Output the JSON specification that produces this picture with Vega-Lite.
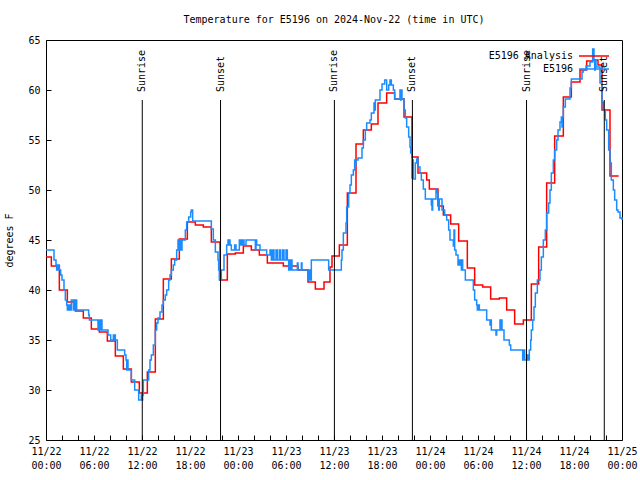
{
  "$schema": "https://vega.github.io/schema/vega-lite/v6.json",
  "autosize": {"type": "none"},
  "padding": {"left": 46, "top": 40, "right": 18, "bottom": 40},
  "width": 576,
  "height": 400,
  "title": {"text": "Temperature for E5196 on 2024-Nov-22 (time in UTC)", "anchor": "middle", "font": "DejaVu Sans Mono", "fontSize": 10, "fontWeight": "normal", "color": "black", "offset": 10},
  "datasets": {
    "an": [
      {"series": "E5196 Analysis", "time": "2024-11-22T00:00:00Z", "temp": 43.3},
      {"series": "E5196 Analysis", "time": "2024-11-22T00:40:00Z", "temp": 42.4},
      {"series": "E5196 Analysis", "time": "2024-11-22T01:40:00Z", "temp": 40.0},
      {"series": "E5196 Analysis", "time": "2024-11-22T02:40:00Z", "temp": 38.8},
      {"series": "E5196 Analysis", "time": "2024-11-22T03:40:00Z", "temp": 37.9},
      {"series": "E5196 Analysis", "time": "2024-11-22T04:40:00Z", "temp": 37.2},
      {"series": "E5196 Analysis", "time": "2024-11-22T05:40:00Z", "temp": 36.1},
      {"series": "E5196 Analysis", "time": "2024-11-22T06:40:00Z", "temp": 35.8},
      {"series": "E5196 Analysis", "time": "2024-11-22T07:40:00Z", "temp": 34.9},
      {"series": "E5196 Analysis", "time": "2024-11-22T08:40:00Z", "temp": 33.4},
      {"series": "E5196 Analysis", "time": "2024-11-22T09:40:00Z", "temp": 32.1},
      {"series": "E5196 Analysis", "time": "2024-11-22T10:40:00Z", "temp": 30.8},
      {"series": "E5196 Analysis", "time": "2024-11-22T11:40:00Z", "temp": 29.7},
      {"series": "E5196 Analysis", "time": "2024-11-22T12:40:00Z", "temp": 31.8},
      {"series": "E5196 Analysis", "time": "2024-11-22T13:40:00Z", "temp": 37.1},
      {"series": "E5196 Analysis", "time": "2024-11-22T14:40:00Z", "temp": 41.1},
      {"series": "E5196 Analysis", "time": "2024-11-22T15:40:00Z", "temp": 43.1},
      {"series": "E5196 Analysis", "time": "2024-11-22T16:40:00Z", "temp": 45.1},
      {"series": "E5196 Analysis", "time": "2024-11-22T17:40:00Z", "temp": 46.8},
      {"series": "E5196 Analysis", "time": "2024-11-22T18:40:00Z", "temp": 46.5},
      {"series": "E5196 Analysis", "time": "2024-11-22T19:40:00Z", "temp": 46.3},
      {"series": "E5196 Analysis", "time": "2024-11-22T20:40:00Z", "temp": 44.8},
      {"series": "E5196 Analysis", "time": "2024-11-22T21:45:00Z", "temp": 41.0},
      {"series": "E5196 Analysis", "time": "2024-11-22T22:40:00Z", "temp": 43.6},
      {"series": "E5196 Analysis", "time": "2024-11-22T23:40:00Z", "temp": 43.7},
      {"series": "E5196 Analysis", "time": "2024-11-23T00:40:00Z", "temp": 44.4},
      {"series": "E5196 Analysis", "time": "2024-11-23T01:40:00Z", "temp": 44.0},
      {"series": "E5196 Analysis", "time": "2024-11-23T02:40:00Z", "temp": 43.5},
      {"series": "E5196 Analysis", "time": "2024-11-23T03:40:00Z", "temp": 42.7},
      {"series": "E5196 Analysis", "time": "2024-11-23T05:40:00Z", "temp": 42.4},
      {"series": "E5196 Analysis", "time": "2024-11-23T07:30:00Z", "temp": 42.0},
      {"series": "E5196 Analysis", "time": "2024-11-23T08:45:00Z", "temp": 40.8},
      {"series": "E5196 Analysis", "time": "2024-11-23T09:40:00Z", "temp": 40.1},
      {"series": "E5196 Analysis", "time": "2024-11-23T10:45:00Z", "temp": 40.8},
      {"series": "E5196 Analysis", "time": "2024-11-23T11:30:00Z", "temp": 42.3},
      {"series": "E5196 Analysis", "time": "2024-11-23T11:45:00Z", "temp": 43.4},
      {"series": "E5196 Analysis", "time": "2024-11-23T12:40:00Z", "temp": 44.5},
      {"series": "E5196 Analysis", "time": "2024-11-23T13:40:00Z", "temp": 49.7},
      {"series": "E5196 Analysis", "time": "2024-11-23T14:45:00Z", "temp": 54.6},
      {"series": "E5196 Analysis", "time": "2024-11-23T15:40:00Z", "temp": 56.0},
      {"series": "E5196 Analysis", "time": "2024-11-23T16:40:00Z", "temp": 56.6},
      {"series": "E5196 Analysis", "time": "2024-11-23T17:30:00Z", "temp": 58.7},
      {"series": "E5196 Analysis", "time": "2024-11-23T18:35:00Z", "temp": 59.7},
      {"series": "E5196 Analysis", "time": "2024-11-23T19:35:00Z", "temp": 59.1},
      {"series": "E5196 Analysis", "time": "2024-11-23T20:45:00Z", "temp": 57.3},
      {"series": "E5196 Analysis", "time": "2024-11-23T21:45:00Z", "temp": 53.3},
      {"series": "E5196 Analysis", "time": "2024-11-23T22:30:00Z", "temp": 51.7},
      {"series": "E5196 Analysis", "time": "2024-11-23T23:35:00Z", "temp": 51.0},
      {"series": "E5196 Analysis", "time": "2024-11-23T23:55:00Z", "temp": 50.1},
      {"series": "E5196 Analysis", "time": "2024-11-24T01:00:00Z", "temp": 48.4},
      {"series": "E5196 Analysis", "time": "2024-11-24T01:40:00Z", "temp": 47.5},
      {"series": "E5196 Analysis", "time": "2024-11-24T02:35:00Z", "temp": 46.6},
      {"series": "E5196 Analysis", "time": "2024-11-24T03:35:00Z", "temp": 44.9},
      {"series": "E5196 Analysis", "time": "2024-11-24T04:40:00Z", "temp": 42.2},
      {"series": "E5196 Analysis", "time": "2024-11-24T05:35:00Z", "temp": 40.5},
      {"series": "E5196 Analysis", "time": "2024-11-24T06:35:00Z", "temp": 40.3},
      {"series": "E5196 Analysis", "time": "2024-11-24T07:35:00Z", "temp": 39.1},
      {"series": "E5196 Analysis", "time": "2024-11-24T08:40:00Z", "temp": 39.2},
      {"series": "E5196 Analysis", "time": "2024-11-24T09:35:00Z", "temp": 38.0},
      {"series": "E5196 Analysis", "time": "2024-11-24T10:35:00Z", "temp": 36.6},
      {"series": "E5196 Analysis", "time": "2024-11-24T11:40:00Z", "temp": 37.0},
      {"series": "E5196 Analysis", "time": "2024-11-24T12:40:00Z", "temp": 40.6},
      {"series": "E5196 Analysis", "time": "2024-11-24T13:35:00Z", "temp": 44.3},
      {"series": "E5196 Analysis", "time": "2024-11-24T14:35:00Z", "temp": 50.7},
      {"series": "E5196 Analysis", "time": "2024-11-24T15:35:00Z", "temp": 55.4},
      {"series": "E5196 Analysis", "time": "2024-11-24T16:40:00Z", "temp": 59.3},
      {"series": "E5196 Analysis", "time": "2024-11-24T17:40:00Z", "temp": 60.8},
      {"series": "E5196 Analysis", "time": "2024-11-24T18:45:00Z", "temp": 62.0},
      {"series": "E5196 Analysis", "time": "2024-11-24T19:35:00Z", "temp": 62.9},
      {"series": "E5196 Analysis", "time": "2024-11-24T20:20:00Z", "temp": 63.0},
      {"series": "E5196 Analysis", "time": "2024-11-24T21:00:00Z", "temp": 62.5},
      {"series": "E5196 Analysis", "time": "2024-11-24T21:30:00Z", "temp": 58.0},
      {"series": "E5196 Analysis", "time": "2024-11-24T22:30:00Z", "temp": 51.4},
      {"series": "E5196 Analysis", "time": "2024-11-24T23:35:00Z", "temp": 51.4}
    ],
    "ob": [
      {"series": "E5196", "time": "2024-11-22T00:00:00Z", "temp": 44.0},
      {"series": "E5196", "time": "2024-11-22T01:00:00Z", "temp": 43.0},
      {"series": "E5196", "time": "2024-11-22T01:15:00Z", "temp": 42.5},
      {"series": "E5196", "time": "2024-11-22T01:20:00Z", "temp": 42.0},
      {"series": "E5196", "time": "2024-11-22T01:25:00Z", "temp": 42.5},
      {"series": "E5196", "time": "2024-11-22T01:30:00Z", "temp": 42.0},
      {"series": "E5196", "time": "2024-11-22T01:35:00Z", "temp": 42.5},
      {"series": "E5196", "time": "2024-11-22T01:40:00Z", "temp": 42.0},
      {"series": "E5196", "time": "2024-11-22T01:50:00Z", "temp": 41.5},
      {"series": "E5196", "time": "2024-11-22T02:00:00Z", "temp": 41.0},
      {"series": "E5196", "time": "2024-11-22T02:15:00Z", "temp": 40.0},
      {"series": "E5196", "time": "2024-11-22T02:25:00Z", "temp": 39.0},
      {"series": "E5196", "time": "2024-11-22T02:35:00Z", "temp": 38.5},
      {"series": "E5196", "time": "2024-11-22T02:40:00Z", "temp": 38.0},
      {"series": "E5196", "time": "2024-11-22T02:50:00Z", "temp": 38.5},
      {"series": "E5196", "time": "2024-11-22T02:55:00Z", "temp": 38.0},
      {"series": "E5196", "time": "2024-11-22T03:00:00Z", "temp": 38.5},
      {"series": "E5196", "time": "2024-11-22T03:05:00Z", "temp": 38.0},
      {"series": "E5196", "time": "2024-11-22T03:10:00Z", "temp": 39.0},
      {"series": "E5196", "time": "2024-11-22T03:25:00Z", "temp": 38.0},
      {"series": "E5196", "time": "2024-11-22T03:30:00Z", "temp": 39.0},
      {"series": "E5196", "time": "2024-11-22T03:35:00Z", "temp": 38.0},
      {"series": "E5196", "time": "2024-11-22T03:45:00Z", "temp": 39.0},
      {"series": "E5196", "time": "2024-11-22T03:50:00Z", "temp": 38.0},
      {"series": "E5196", "time": "2024-11-22T05:20:00Z", "temp": 37.5},
      {"series": "E5196", "time": "2024-11-22T05:25:00Z", "temp": 37.0},
      {"series": "E5196", "time": "2024-11-22T06:30:00Z", "temp": 36.0},
      {"series": "E5196", "time": "2024-11-22T06:40:00Z", "temp": 37.0},
      {"series": "E5196", "time": "2024-11-22T06:45:00Z", "temp": 36.0},
      {"series": "E5196", "time": "2024-11-22T06:55:00Z", "temp": 37.0},
      {"series": "E5196", "time": "2024-11-22T07:00:00Z", "temp": 36.0},
      {"series": "E5196", "time": "2024-11-22T07:45:00Z", "temp": 35.5},
      {"series": "E5196", "time": "2024-11-22T08:05:00Z", "temp": 35.0},
      {"series": "E5196", "time": "2024-11-22T08:25:00Z", "temp": 35.5},
      {"series": "E5196", "time": "2024-11-22T08:30:00Z", "temp": 35.0},
      {"series": "E5196", "time": "2024-11-22T08:35:00Z", "temp": 35.5},
      {"series": "E5196", "time": "2024-11-22T08:40:00Z", "temp": 35.0},
      {"series": "E5196", "time": "2024-11-22T08:55:00Z", "temp": 34.0},
      {"series": "E5196", "time": "2024-11-22T09:50:00Z", "temp": 33.5},
      {"series": "E5196", "time": "2024-11-22T10:00:00Z", "temp": 33.0},
      {"series": "E5196", "time": "2024-11-22T10:05:00Z", "temp": 32.0},
      {"series": "E5196", "time": "2024-11-22T10:10:00Z", "temp": 33.0},
      {"series": "E5196", "time": "2024-11-22T10:15:00Z", "temp": 32.0},
      {"series": "E5196", "time": "2024-11-22T10:40:00Z", "temp": 31.0},
      {"series": "E5196", "time": "2024-11-22T11:05:00Z", "temp": 30.0},
      {"series": "E5196", "time": "2024-11-22T11:35:00Z", "temp": 29.0},
      {"series": "E5196", "time": "2024-11-22T11:55:00Z", "temp": 29.5},
      {"series": "E5196", "time": "2024-11-22T12:00:00Z", "temp": 29.0},
      {"series": "E5196", "time": "2024-11-22T12:05:00Z", "temp": 29.5},
      {"series": "E5196", "time": "2024-11-22T12:10:00Z", "temp": 31.0},
      {"series": "E5196", "time": "2024-11-22T12:50:00Z", "temp": 32.0},
      {"series": "E5196", "time": "2024-11-22T13:00:00Z", "temp": 33.0},
      {"series": "E5196", "time": "2024-11-22T13:10:00Z", "temp": 33.5},
      {"series": "E5196", "time": "2024-11-22T13:25:00Z", "temp": 34.5},
      {"series": "E5196", "time": "2024-11-22T13:40:00Z", "temp": 36.0},
      {"series": "E5196", "time": "2024-11-22T13:50:00Z", "temp": 36.7},
      {"series": "E5196", "time": "2024-11-22T14:00:00Z", "temp": 37.2},
      {"series": "E5196", "time": "2024-11-22T14:15:00Z", "temp": 37.8},
      {"series": "E5196", "time": "2024-11-22T14:30:00Z", "temp": 38.5},
      {"series": "E5196", "time": "2024-11-22T14:40:00Z", "temp": 39.0},
      {"series": "E5196", "time": "2024-11-22T14:55:00Z", "temp": 39.5},
      {"series": "E5196", "time": "2024-11-22T15:05:00Z", "temp": 40.0},
      {"series": "E5196", "time": "2024-11-22T15:20:00Z", "temp": 41.0},
      {"series": "E5196", "time": "2024-11-22T15:30:00Z", "temp": 41.5},
      {"series": "E5196", "time": "2024-11-22T15:40:00Z", "temp": 42.0},
      {"series": "E5196", "time": "2024-11-22T15:55:00Z", "temp": 42.5},
      {"series": "E5196", "time": "2024-11-22T16:05:00Z", "temp": 43.0},
      {"series": "E5196", "time": "2024-11-22T16:20:00Z", "temp": 44.0},
      {"series": "E5196", "time": "2024-11-22T16:30:00Z", "temp": 45.0},
      {"series": "E5196", "time": "2024-11-22T16:40:00Z", "temp": 44.0},
      {"series": "E5196", "time": "2024-11-22T16:45:00Z", "temp": 45.0},
      {"series": "E5196", "time": "2024-11-22T16:55:00Z", "temp": 44.0},
      {"series": "E5196", "time": "2024-11-22T17:00:00Z", "temp": 45.0},
      {"series": "E5196", "time": "2024-11-22T17:25:00Z", "temp": 46.0},
      {"series": "E5196", "time": "2024-11-22T17:35:00Z", "temp": 46.8},
      {"series": "E5196", "time": "2024-11-22T17:50:00Z", "temp": 47.3},
      {"series": "E5196", "time": "2024-11-22T18:05:00Z", "temp": 47.8},
      {"series": "E5196", "time": "2024-11-22T18:10:00Z", "temp": 48.0},
      {"series": "E5196", "time": "2024-11-22T18:20:00Z", "temp": 46.9},
      {"series": "E5196", "time": "2024-11-22T20:40:00Z", "temp": 46.1},
      {"series": "E5196", "time": "2024-11-22T20:55:00Z", "temp": 45.0},
      {"series": "E5196", "time": "2024-11-22T21:10:00Z", "temp": 43.8},
      {"series": "E5196", "time": "2024-11-22T21:30:00Z", "temp": 43.0},
      {"series": "E5196", "time": "2024-11-22T21:35:00Z", "temp": 42.0},
      {"series": "E5196", "time": "2024-11-22T21:40:00Z", "temp": 41.0},
      {"series": "E5196", "time": "2024-11-22T21:45:00Z", "temp": 42.0},
      {"series": "E5196", "time": "2024-11-22T21:50:00Z", "temp": 41.0},
      {"series": "E5196", "time": "2024-11-22T21:55:00Z", "temp": 42.0},
      {"series": "E5196", "time": "2024-11-22T22:15:00Z", "temp": 43.5},
      {"series": "E5196", "time": "2024-11-22T22:35:00Z", "temp": 44.5},
      {"series": "E5196", "time": "2024-11-22T22:45:00Z", "temp": 45.0},
      {"series": "E5196", "time": "2024-11-22T22:50:00Z", "temp": 44.5},
      {"series": "E5196", "time": "2024-11-22T22:55:00Z", "temp": 45.0},
      {"series": "E5196", "time": "2024-11-22T23:00:00Z", "temp": 44.5},
      {"series": "E5196", "time": "2024-11-22T23:10:00Z", "temp": 44.0},
      {"series": "E5196", "time": "2024-11-22T23:35:00Z", "temp": 44.5},
      {"series": "E5196", "time": "2024-11-22T23:45:00Z", "temp": 44.0},
      {"series": "E5196", "time": "2024-11-23T00:10:00Z", "temp": 45.0},
      {"series": "E5196", "time": "2024-11-23T00:15:00Z", "temp": 44.5},
      {"series": "E5196", "time": "2024-11-23T00:25:00Z", "temp": 45.0},
      {"series": "E5196", "time": "2024-11-23T00:30:00Z", "temp": 44.5},
      {"series": "E5196", "time": "2024-11-23T00:40:00Z", "temp": 45.0},
      {"series": "E5196", "time": "2024-11-23T00:45:00Z", "temp": 44.5},
      {"series": "E5196", "time": "2024-11-23T01:00:00Z", "temp": 45.0},
      {"series": "E5196", "time": "2024-11-23T02:10:00Z", "temp": 44.0},
      {"series": "E5196", "time": "2024-11-23T02:15:00Z", "temp": 45.0},
      {"series": "E5196", "time": "2024-11-23T02:20:00Z", "temp": 44.5},
      {"series": "E5196", "time": "2024-11-23T02:45:00Z", "temp": 44.0},
      {"series": "E5196", "time": "2024-11-23T03:35:00Z", "temp": 43.5},
      {"series": "E5196", "time": "2024-11-23T04:00:00Z", "temp": 44.0},
      {"series": "E5196", "time": "2024-11-23T04:10:00Z", "temp": 43.0},
      {"series": "E5196", "time": "2024-11-23T04:20:00Z", "temp": 44.0},
      {"series": "E5196", "time": "2024-11-23T04:30:00Z", "temp": 43.0},
      {"series": "E5196", "time": "2024-11-23T04:45:00Z", "temp": 44.0},
      {"series": "E5196", "time": "2024-11-23T04:55:00Z", "temp": 43.0},
      {"series": "E5196", "time": "2024-11-23T05:10:00Z", "temp": 44.0},
      {"series": "E5196", "time": "2024-11-23T05:20:00Z", "temp": 43.0},
      {"series": "E5196", "time": "2024-11-23T05:35:00Z", "temp": 44.0},
      {"series": "E5196", "time": "2024-11-23T05:45:00Z", "temp": 43.0},
      {"series": "E5196", "time": "2024-11-23T06:00:00Z", "temp": 44.0},
      {"series": "E5196", "time": "2024-11-23T06:10:00Z", "temp": 43.0},
      {"series": "E5196", "time": "2024-11-23T06:20:00Z", "temp": 42.0},
      {"series": "E5196", "time": "2024-11-23T06:25:00Z", "temp": 43.0},
      {"series": "E5196", "time": "2024-11-23T06:30:00Z", "temp": 42.0},
      {"series": "E5196", "time": "2024-11-23T06:35:00Z", "temp": 43.0},
      {"series": "E5196", "time": "2024-11-23T06:45:00Z", "temp": 42.0},
      {"series": "E5196", "time": "2024-11-23T07:25:00Z", "temp": 42.7},
      {"series": "E5196", "time": "2024-11-23T07:30:00Z", "temp": 42.0},
      {"series": "E5196", "time": "2024-11-23T07:55:00Z", "temp": 42.7},
      {"series": "E5196", "time": "2024-11-23T08:00:00Z", "temp": 42.0},
      {"series": "E5196", "time": "2024-11-23T08:50:00Z", "temp": 41.0},
      {"series": "E5196", "time": "2024-11-23T09:00:00Z", "temp": 42.0},
      {"series": "E5196", "time": "2024-11-23T09:05:00Z", "temp": 41.0},
      {"series": "E5196", "time": "2024-11-23T09:10:00Z", "temp": 43.0},
      {"series": "E5196", "time": "2024-11-23T11:20:00Z", "temp": 42.0},
      {"series": "E5196", "time": "2024-11-23T12:55:00Z", "temp": 43.0},
      {"series": "E5196", "time": "2024-11-23T13:00:00Z", "temp": 44.0},
      {"series": "E5196", "time": "2024-11-23T13:10:00Z", "temp": 45.7},
      {"series": "E5196", "time": "2024-11-23T13:30:00Z", "temp": 46.7},
      {"series": "E5196", "time": "2024-11-23T13:35:00Z", "temp": 48.3},
      {"series": "E5196", "time": "2024-11-23T13:50:00Z", "temp": 49.7},
      {"series": "E5196", "time": "2024-11-23T14:00:00Z", "temp": 50.5},
      {"series": "E5196", "time": "2024-11-23T14:10:00Z", "temp": 51.5},
      {"series": "E5196", "time": "2024-11-23T14:25:00Z", "temp": 52.0},
      {"series": "E5196", "time": "2024-11-23T14:35:00Z", "temp": 53.0},
      {"series": "E5196", "time": "2024-11-23T14:40:00Z", "temp": 52.5},
      {"series": "E5196", "time": "2024-11-23T14:45:00Z", "temp": 53.0},
      {"series": "E5196", "time": "2024-11-23T15:00:00Z", "temp": 53.2},
      {"series": "E5196", "time": "2024-11-23T15:30:00Z", "temp": 54.2},
      {"series": "E5196", "time": "2024-11-23T15:40:00Z", "temp": 55.0},
      {"series": "E5196", "time": "2024-11-23T15:55:00Z", "temp": 56.0},
      {"series": "E5196", "time": "2024-11-23T16:05:00Z", "temp": 56.7},
      {"series": "E5196", "time": "2024-11-23T16:30:00Z", "temp": 57.0},
      {"series": "E5196", "time": "2024-11-23T16:40:00Z", "temp": 57.7},
      {"series": "E5196", "time": "2024-11-23T17:00:00Z", "temp": 58.7},
      {"series": "E5196", "time": "2024-11-23T17:05:00Z", "temp": 58.0},
      {"series": "E5196", "time": "2024-11-23T17:10:00Z", "temp": 59.0},
      {"series": "E5196", "time": "2024-11-23T17:45:00Z", "temp": 60.0},
      {"series": "E5196", "time": "2024-11-23T18:00:00Z", "temp": 60.6},
      {"series": "E5196", "time": "2024-11-23T18:20:00Z", "temp": 61.0},
      {"series": "E5196", "time": "2024-11-23T18:35:00Z", "temp": 60.0},
      {"series": "E5196", "time": "2024-11-23T18:50:00Z", "temp": 60.5},
      {"series": "E5196", "time": "2024-11-23T19:00:00Z", "temp": 61.0},
      {"series": "E5196", "time": "2024-11-23T19:10:00Z", "temp": 60.5},
      {"series": "E5196", "time": "2024-11-23T19:25:00Z", "temp": 60.0},
      {"series": "E5196", "time": "2024-11-23T19:35:00Z", "temp": 59.1},
      {"series": "E5196", "time": "2024-11-23T20:15:00Z", "temp": 60.0},
      {"series": "E5196", "time": "2024-11-23T20:20:00Z", "temp": 59.0},
      {"series": "E5196", "time": "2024-11-23T20:25:00Z", "temp": 60.0},
      {"series": "E5196", "time": "2024-11-23T20:30:00Z", "temp": 59.1},
      {"series": "E5196", "time": "2024-11-23T20:45:00Z", "temp": 58.0},
      {"series": "E5196", "time": "2024-11-23T20:55:00Z", "temp": 57.2},
      {"series": "E5196", "time": "2024-11-23T21:05:00Z", "temp": 56.3},
      {"series": "E5196", "time": "2024-11-23T21:20:00Z", "temp": 55.3},
      {"series": "E5196", "time": "2024-11-23T21:30:00Z", "temp": 54.3},
      {"series": "E5196", "time": "2024-11-23T21:35:00Z", "temp": 53.7},
      {"series": "E5196", "time": "2024-11-23T21:45:00Z", "temp": 51.2},
      {"series": "E5196", "time": "2024-11-23T21:50:00Z", "temp": 53.0},
      {"series": "E5196", "time": "2024-11-23T21:55:00Z", "temp": 51.1},
      {"series": "E5196", "time": "2024-11-23T22:10:00Z", "temp": 52.7},
      {"series": "E5196", "time": "2024-11-23T22:20:00Z", "temp": 53.1},
      {"series": "E5196", "time": "2024-11-23T22:30:00Z", "temp": 52.3},
      {"series": "E5196", "time": "2024-11-23T22:45:00Z", "temp": 51.7},
      {"series": "E5196", "time": "2024-11-23T22:55:00Z", "temp": 51.0},
      {"series": "E5196", "time": "2024-11-23T23:10:00Z", "temp": 50.1},
      {"series": "E5196", "time": "2024-11-23T23:25:00Z", "temp": 49.1},
      {"series": "E5196", "time": "2024-11-24T00:10:00Z", "temp": 48.5},
      {"series": "E5196", "time": "2024-11-24T00:15:00Z", "temp": 48.0},
      {"series": "E5196", "time": "2024-11-24T00:20:00Z", "temp": 49.1},
      {"series": "E5196", "time": "2024-11-24T00:45:00Z", "temp": 50.1},
      {"series": "E5196", "time": "2024-11-24T00:50:00Z", "temp": 49.7},
      {"series": "E5196", "time": "2024-11-24T01:00:00Z", "temp": 49.0},
      {"series": "E5196", "time": "2024-11-24T01:05:00Z", "temp": 48.0},
      {"series": "E5196", "time": "2024-11-24T01:10:00Z", "temp": 49.1},
      {"series": "E5196", "time": "2024-11-24T01:30:00Z", "temp": 48.0},
      {"series": "E5196", "time": "2024-11-24T01:50:00Z", "temp": 47.5},
      {"series": "E5196", "time": "2024-11-24T02:05:00Z", "temp": 47.0},
      {"series": "E5196", "time": "2024-11-24T02:20:00Z", "temp": 46.0},
      {"series": "E5196", "time": "2024-11-24T02:30:00Z", "temp": 45.0},
      {"series": "E5196", "time": "2024-11-24T02:55:00Z", "temp": 44.4},
      {"series": "E5196", "time": "2024-11-24T03:00:00Z", "temp": 46.0},
      {"series": "E5196", "time": "2024-11-24T03:05:00Z", "temp": 44.0},
      {"series": "E5196", "time": "2024-11-24T03:15:00Z", "temp": 43.5},
      {"series": "E5196", "time": "2024-11-24T03:30:00Z", "temp": 42.5},
      {"series": "E5196", "time": "2024-11-24T03:35:00Z", "temp": 43.0},
      {"series": "E5196", "time": "2024-11-24T03:40:00Z", "temp": 42.5},
      {"series": "E5196", "time": "2024-11-24T03:45:00Z", "temp": 43.0},
      {"series": "E5196", "time": "2024-11-24T03:55:00Z", "temp": 42.0},
      {"series": "E5196", "time": "2024-11-24T04:00:00Z", "temp": 43.0},
      {"series": "E5196", "time": "2024-11-24T04:05:00Z", "temp": 42.0},
      {"series": "E5196", "time": "2024-11-24T04:25:00Z", "temp": 41.0},
      {"series": "E5196", "time": "2024-11-24T05:25:00Z", "temp": 40.0},
      {"series": "E5196", "time": "2024-11-24T05:35:00Z", "temp": 39.0},
      {"series": "E5196", "time": "2024-11-24T05:50:00Z", "temp": 38.5},
      {"series": "E5196", "time": "2024-11-24T05:55:00Z", "temp": 38.0},
      {"series": "E5196", "time": "2024-11-24T06:00:00Z", "temp": 38.5},
      {"series": "E5196", "time": "2024-11-24T06:10:00Z", "temp": 38.0},
      {"series": "E5196", "time": "2024-11-24T07:05:00Z", "temp": 37.0},
      {"series": "E5196", "time": "2024-11-24T07:30:00Z", "temp": 36.5},
      {"series": "E5196", "time": "2024-11-24T07:35:00Z", "temp": 37.0},
      {"series": "E5196", "time": "2024-11-24T07:40:00Z", "temp": 36.0},
      {"series": "E5196", "time": "2024-11-24T08:15:00Z", "temp": 35.5},
      {"series": "E5196", "time": "2024-11-24T08:20:00Z", "temp": 36.0},
      {"series": "E5196", "time": "2024-11-24T08:45:00Z", "temp": 37.0},
      {"series": "E5196", "time": "2024-11-24T08:50:00Z", "temp": 36.0},
      {"series": "E5196", "time": "2024-11-24T08:55:00Z", "temp": 37.0},
      {"series": "E5196", "time": "2024-11-24T09:00:00Z", "temp": 36.0},
      {"series": "E5196", "time": "2024-11-24T09:15:00Z", "temp": 35.0},
      {"series": "E5196", "time": "2024-11-24T09:55:00Z", "temp": 34.5},
      {"series": "E5196", "time": "2024-11-24T10:05:00Z", "temp": 34.0},
      {"series": "E5196", "time": "2024-11-24T11:35:00Z", "temp": 33.0},
      {"series": "E5196", "time": "2024-11-24T11:45:00Z", "temp": 34.0},
      {"series": "E5196", "time": "2024-11-24T11:50:00Z", "temp": 33.0},
      {"series": "E5196", "time": "2024-11-24T12:05:00Z", "temp": 33.5},
      {"series": "E5196", "time": "2024-11-24T12:10:00Z", "temp": 33.0},
      {"series": "E5196", "time": "2024-11-24T12:15:00Z", "temp": 33.5},
      {"series": "E5196", "time": "2024-11-24T12:20:00Z", "temp": 33.0},
      {"series": "E5196", "time": "2024-11-24T12:25:00Z", "temp": 34.0},
      {"series": "E5196", "time": "2024-11-24T12:35:00Z", "temp": 35.0},
      {"series": "E5196", "time": "2024-11-24T12:40:00Z", "temp": 36.0},
      {"series": "E5196", "time": "2024-11-24T12:50:00Z", "temp": 37.0},
      {"series": "E5196", "time": "2024-11-24T13:00:00Z", "temp": 38.3},
      {"series": "E5196", "time": "2024-11-24T13:10:00Z", "temp": 39.7},
      {"series": "E5196", "time": "2024-11-24T13:25:00Z", "temp": 41.0},
      {"series": "E5196", "time": "2024-11-24T13:45:00Z", "temp": 42.0},
      {"series": "E5196", "time": "2024-11-24T13:55:00Z", "temp": 43.3},
      {"series": "E5196", "time": "2024-11-24T14:10:00Z", "temp": 45.0},
      {"series": "E5196", "time": "2024-11-24T14:25:00Z", "temp": 46.0},
      {"series": "E5196", "time": "2024-11-24T14:35:00Z", "temp": 47.7},
      {"series": "E5196", "time": "2024-11-24T14:50:00Z", "temp": 48.7},
      {"series": "E5196", "time": "2024-11-24T15:00:00Z", "temp": 50.0},
      {"series": "E5196", "time": "2024-11-24T15:10:00Z", "temp": 51.7},
      {"series": "E5196", "time": "2024-11-24T15:25:00Z", "temp": 53.0},
      {"series": "E5196", "time": "2024-11-24T15:35:00Z", "temp": 54.0},
      {"series": "E5196", "time": "2024-11-24T15:50:00Z", "temp": 55.0},
      {"series": "E5196", "time": "2024-11-24T16:00:00Z", "temp": 56.0},
      {"series": "E5196", "time": "2024-11-24T16:15:00Z", "temp": 56.8},
      {"series": "E5196", "time": "2024-11-24T16:25:00Z", "temp": 57.3},
      {"series": "E5196", "time": "2024-11-24T16:30:00Z", "temp": 56.3},
      {"series": "E5196", "time": "2024-11-24T16:35:00Z", "temp": 57.3},
      {"series": "E5196", "time": "2024-11-24T16:40:00Z", "temp": 58.3},
      {"series": "E5196", "time": "2024-11-24T16:55:00Z", "temp": 59.1},
      {"series": "E5196", "time": "2024-11-24T17:30:00Z", "temp": 60.2},
      {"series": "E5196", "time": "2024-11-24T17:40:00Z", "temp": 61.1},
      {"series": "E5196", "time": "2024-11-24T19:00:00Z", "temp": 61.8},
      {"series": "E5196", "time": "2024-11-24T19:10:00Z", "temp": 62.0},
      {"series": "E5196", "time": "2024-11-24T19:30:00Z", "temp": 62.4},
      {"series": "E5196", "time": "2024-11-24T20:00:00Z", "temp": 62.8},
      {"series": "E5196", "time": "2024-11-24T20:20:00Z", "temp": 64.1},
      {"series": "E5196", "time": "2024-11-24T20:30:00Z", "temp": 63.0},
      {"series": "E5196", "time": "2024-11-24T20:35:00Z", "temp": 62.0},
      {"series": "E5196", "time": "2024-11-24T20:40:00Z", "temp": 63.0},
      {"series": "E5196", "time": "2024-11-24T20:45:00Z", "temp": 62.3},
      {"series": "E5196", "time": "2024-11-24T21:15:00Z", "temp": 60.7},
      {"series": "E5196", "time": "2024-11-24T21:30:00Z", "temp": 58.8},
      {"series": "E5196", "time": "2024-11-24T21:40:00Z", "temp": 58.0},
      {"series": "E5196", "time": "2024-11-24T21:55:00Z", "temp": 57.0},
      {"series": "E5196", "time": "2024-11-24T22:05:00Z", "temp": 56.0},
      {"series": "E5196", "time": "2024-11-24T22:20:00Z", "temp": 54.0},
      {"series": "E5196", "time": "2024-11-24T22:30:00Z", "temp": 52.7},
      {"series": "E5196", "time": "2024-11-24T22:40:00Z", "temp": 51.0},
      {"series": "E5196", "time": "2024-11-24T22:55:00Z", "temp": 50.0},
      {"series": "E5196", "time": "2024-11-24T23:05:00Z", "temp": 49.0},
      {"series": "E5196", "time": "2024-11-24T23:20:00Z", "temp": 48.0},
      {"series": "E5196", "time": "2024-11-24T23:30:00Z", "temp": 47.8},
      {"series": "E5196", "time": "2024-11-24T23:45:00Z", "temp": 47.2},
      {"series": "E5196", "time": "2024-11-25T00:00:00Z", "temp": 47.0}
    ],
    "sun": [
      {"event": "Sunrise", "time": "2024-11-22T12:02:00Z"},
      {"event": "Sunset", "time": "2024-11-22T21:49:00Z"},
      {"event": "Sunrise", "time": "2024-11-23T12:03:00Z"},
      {"event": "Sunset", "time": "2024-11-23T21:48:00Z"},
      {"event": "Sunrise", "time": "2024-11-24T12:04:00Z"},
      {"event": "Sunset", "time": "2024-11-24T21:47:00Z"}
    ]
  },
  "encoding": {
    "x": {"field": "time", "type": "temporal",
      "scale": {"type": "utc", "nice": false},
      "axis": {"title": null, "grid": false, "domain": false, "tickSize": -5, "labelPadding": 11, "labelLineHeight": 14, "labelOverlap": false, "labelFlush": false,
        "values": [1732233600000, 1732240800000, 1732248000000, 1732255200000, 1732262400000, 1732269600000, 1732276800000, 1732284000000, 1732291200000, 1732298400000, 1732305600000, 1732312800000, 1732320000000, 1732327200000, 1732334400000, 1732341600000, 1732348800000, 1732356000000, 1732363200000, 1732370400000, 1732377600000, 1732384800000, 1732392000000, 1732399200000, 1732406400000, 1732413600000, 1732420800000, 1732428000000, 1732435200000, 1732442400000, 1732449600000, 1732456800000, 1732464000000, 1732471200000, 1732478400000, 1732485600000, 1732492800000],
        "labelExpr": "utchours(datum.value) % 6 == 0 ? [utcFormat(datum.value, '%m/%d'), utcFormat(datum.value, '%H:%M')] : ''"}}
  },
  "layer": [
    {
      "data": {"name": "an"},
      "mark": {"type": "line", "interpolate": "step-after", "strokeWidth": 1.5},
      "encoding": {
        "y": {"field": "temp", "type": "quantitative",
          "scale": {"domain": [25, 65], "nice": false, "zero": false},
          "axis": {"title": "degrees F", "grid": false, "domain": false, "tickSize": -5, "labelPadding": 11, "values": [25, 30, 35, 40, 45, 50, 55, 60, 65], "titlePadding": 13}},
        "color": {"field": "series", "type": "nominal",
          "scale": {"domain": ["E5196 Analysis", "E5196"], "range": ["#ff0000", "#1a8cff"]},
          "legend": {"title": null, "orient": "top-right", "offset": 10, "padding": 0, "rowPadding": 2, "symbolType": "M-5,0H1", "symbolSize": 100, "symbolStrokeWidth": 1.5, "labelAlign": "right", "labelOffset": -37}}
      }
    },
    {
      "data": {"name": "ob"},
      "mark": {"type": "line", "interpolate": "step-after", "strokeWidth": 1.5},
      "encoding": {
        "y": {"field": "temp", "type": "quantitative"},
        "color": {"field": "series", "type": "nominal"}
      }
    },
    {
      "data": {"name": "sun"},
      "mark": {"type": "rule", "color": "black", "strokeWidth": 1},
      "encoding": {
        "y": {"datum": 59, "type": "quantitative"},
        "y2": {"datum": 25}
      }
    },
    {
      "data": {"name": "sun"},
      "mark": {"type": "text", "angle": 270, "align": "left", "baseline": "middle", "font": "DejaVu Sans Mono", "fontSize": 10, "color": "black"},
      "encoding": {
        "y": {"datum": 59.8, "type": "quantitative"},
        "text": {"field": "event"}
      }
    }
  ],
  "config": {
    "font": "DejaVu Sans Mono",
    "view": {"stroke": "black", "strokeWidth": 1},
    "axis": {"labelFont": "DejaVu Sans Mono", "labelFontSize": 10, "labelColor": "black", "tickColor": "black", "titleFont": "DejaVu Sans Mono", "titleFontSize": 10, "titleFontWeight": "normal", "titleColor": "black"},
    "legend": {"labelFont": "DejaVu Sans Mono", "labelFontSize": 10, "labelColor": "black"}
  }
}
